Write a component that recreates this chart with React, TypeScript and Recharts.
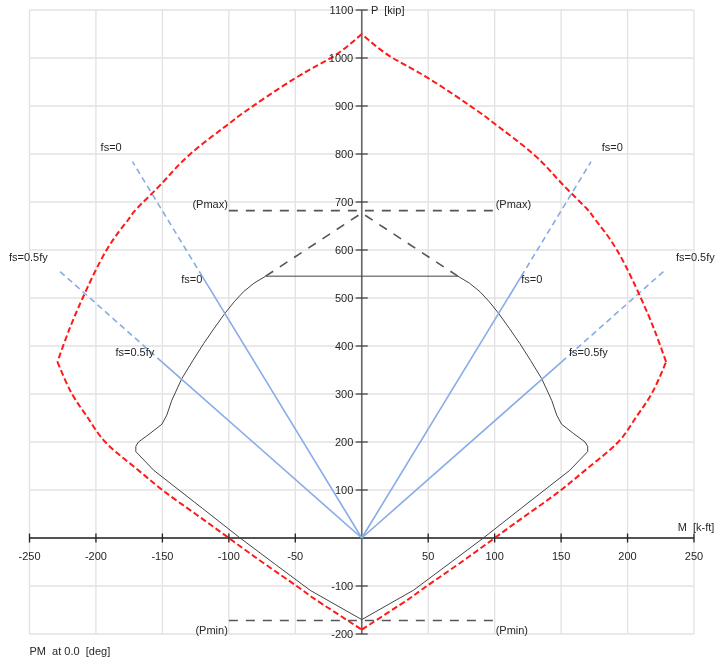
import React from 'react';
import { ComposedChart, Line, XAxis, YAxis, ReferenceLine, ReferenceDot } from 'recharts';

// ---- data ----
const xTicks = [-250, -200, -150, -100, -50, 0, 50, 100, 150, 200, 250];
const yTicks = [-200, -100, 0, 100, 200, 300, 400, 500, 600, 700, 800, 900, 1000, 1100];
const xTickLabels = [-250, -200, -150, -100, -50, 50, 100, 150, 200, 250];
const yTickLabels = [-200, -100, 100, 200, 300, 400, 500, 600, 700, 800, 900, 1000, 1100];

// nominal strength envelope (red dashed), four smooth branches
const nominalRightLower = [
  { x: 0, y: -191 }, { x: 20, y: -155 }, { x: 36, y: -126 }, { x: 49, y: -100 }, { x: 74, y: -52 },
  { x: 100, y: 0 }, { x: 125, y: 50 }, { x: 150, y: 100 }, { x: 172, y: 150 }, { x: 193, y: 200 },
  { x: 206, y: 250 }, { x: 218, y: 300 }, { x: 229, y: 367 },
];
const nominalRightUpper = [
  { x: 229, y: 367 }, { x: 220, y: 435 }, { x: 210, y: 500 }, { x: 192, y: 600 }, { x: 176, y: 662 },
  { x: 169, y: 687 }, { x: 150, y: 740 }, { x: 129, y: 800 }, { x: 100, y: 863 }, { x: 89, y: 886 },
  { x: 50, y: 958 }, { x: 21, y: 1004 }, { x: 0, y: 1050 },
];
const nominalLeftUpper = [
  { x: 0, y: 1050 }, { x: -21, y: 1004 }, { x: -50, y: 958 }, { x: -89, y: 886 }, { x: -100, y: 863 },
  { x: -129, y: 800 }, { x: -150, y: 740 }, { x: -169, y: 687 }, { x: -176, y: 662 }, { x: -192, y: 600 },
  { x: -210, y: 500 }, { x: -220, y: 435 }, { x: -229, y: 367 },
];
const nominalLeftLower = [
  { x: -229, y: 367 }, { x: -218, y: 300 }, { x: -206, y: 250 }, { x: -193, y: 200 }, { x: -172, y: 150 },
  { x: -150, y: 100 }, { x: -125, y: 50 }, { x: -100, y: 0 }, { x: -74, y: -52 }, { x: -49, y: -100 },
  { x: -36, y: -126 }, { x: -20, y: -155 }, { x: 0, y: -191 },
];

// design strength (black solid)
const designCurve = [
  { x: -72.3, y: 545.5 }, { x: 72.3, y: 545.5 }, { x: 81, y: 531 }, { x: 89, y: 513 }, { x: 96, y: 492 },
  { x: 103, y: 468 }, { x: 111, y: 437 }, { x: 119, y: 405 }, { x: 127, y: 370 }, { x: 135.4, y: 332 },
  { x: 142.9, y: 287 }, { x: 146.7, y: 256 }, { x: 150.4, y: 237 }, { x: 159.2, y: 218 }, { x: 168, y: 200 },
  { x: 170, y: 191 }, { x: 170, y: 180 }, { x: 156.5, y: 141 }, { x: 120, y: 62 }, { x: 91.5, y: 0 },
  { x: 65, y: -55 }, { x: 38.8, y: -109 }, { x: 0, y: -170 }, { x: -38.8, y: -109 }, { x: -65, y: -55 },
  { x: -91.5, y: 0 }, { x: -120, y: 62 }, { x: -156.5, y: 141 }, { x: -170, y: 180 }, { x: -170, y: 191 },
  { x: -168, y: 200 }, { x: -159.2, y: 218 }, { x: -150.4, y: 237 }, { x: -146.7, y: 256 }, { x: -142.9, y: 287 },
  { x: -135.4, y: 332 }, { x: -127, y: 370 }, { x: -119, y: 405 }, { x: -111, y: 437 }, { x: -103, y: 468 },
  { x: -96, y: 492 }, { x: -89, y: 513 }, { x: -81, y: 531 }, { x: -72.3, y: 545.5 },
];

const designCap = [{ x: -72.3, y: 545.5 }, { x: 0, y: 677 }, { x: 72.3, y: 545.5 }];
const pmaxLine = [{ x: -100, y: 682 }, { x: 100, y: 682 }];
const pminLine = [{ x: -100, y: -172 }, { x: 100, y: -172 }];

const fs0RightSolid = [{ x: 0, y: 0 }, { x: 120, y: 545 }];
const fs0RightDash = [{ x: 120, y: 545 }, { x: 172.5, y: 784 }];
const fs0LeftSolid = [{ x: 0, y: 0 }, { x: -120, y: 545 }];
const fs0LeftDash = [{ x: -120, y: 545 }, { x: -172.5, y: 784 }];
const fsHalfRightSolid = [{ x: 0, y: 0 }, { x: 150.4, y: 367 }];
const fsHalfRightDash = [{ x: 150.4, y: 367 }, { x: 228.6, y: 559 }];
const fsHalfLeftSolid = [{ x: 0, y: 0 }, { x: -150.4, y: 367 }];
const fsHalfLeftDash = [{ x: -150.4, y: 367 }, { x: -228.6, y: 559 }];

const textLabels = [
  { text: '(Pmax)', x: -100, y: 682 },
  { text: '(Pmax)', x: 100, y: 682 },
  { text: '(Pmin)', x: -100, y: -172 },
  { text: '(Pmin)', x: 100, y: -172 },
  { text: 'fs=0', x: 172.5, y: 784 },
  { text: 'fs=0', x: -172.5, y: 784 },
  { text: 'fs=0.5fy', x: 228.6, y: 559 },
  { text: 'fs=0.5fy', x: -228.6, y: 559 },
  { text: 'fs=0', x: 120, y: 545 },
  { text: 'fs=0', x: -120, y: 545 },
  { text: 'fs=0.5fy', x: 150.4, y: 367 },
  { text: 'fs=0.5fy', x: -150.4, y: 367 },
  { text: 'M  [k-ft]', x: 250, y: 0 },
  { text: 'P  [kip]', x: 0, y: 1100 },
  { text: 'PM  at 0.0  [deg]', x: -250, y: -200 },
];

// ---- styling (pixel offsets for each label, same order) ----
const labelStyle = [
  { dx: -1, dy: -2.5, anchor: 'end' },
  { dx: 1, dy: -2.5, anchor: 'start' },
  { dx: -1, dy: 13, anchor: 'end' },
  { dx: 1, dy: 13, anchor: 'start' },
  { dx: 10.7, dy: -11, anchor: 'start' },
  { dx: -10.8, dy: -11, anchor: 'end' },
  { dx: 10.4, dy: -9, anchor: 'start' },
  { dx: -10.2, dy: -9, anchor: 'end' },
  { dx: 0, dy: 7, anchor: 'start' },
  { dx: 0, dy: 7, anchor: 'end' },
  { dx: 7.4, dy: -6, anchor: 'start' },
  { dx: -7.6, dy: -6, anchor: 'end' },
  { dx: -16.3, dy: -7, anchor: 'start' },
  { dx: 9.3, dy: 4, anchor: 'start' },
  { dx: 0, dy: 21, anchor: 'start' },
];

const FONT = '"Liberation Sans", Arial, Helvetica, sans-serif';
const TEXT_COLOR = '#262626';
const RED = '#ff1a1a';
const BLUE = '#86ace6';
const GRAY = '#555555';
const GRID = '#e2e2e2';

const textShape = (text: string, dx: number, dy: number, anchor: string) => (p: any) => (
  <text
    x={p.cx + dx}
    y={p.cy + dy}
    textAnchor={anchor}
    fontSize={11}
    fontFamily={FONT}
    fill={TEXT_COLOR}
    style={{ whiteSpace: 'pre' }}
  >
    {text}
  </text>
);

const xTickShape = (v: number) => (p: any) => (
  <g>
    <line x1={p.cx} x2={p.cx} y1={p.cy - 4.5} y2={p.cy + 4.5} stroke="#222" strokeWidth={1.3} />
    <text x={p.cx} y={p.cy + 22} textAnchor="middle" fontSize={11} fontFamily={FONT} fill={TEXT_COLOR}>
      {v}
    </text>
  </g>
);

const yTickShape = (v: number) => (p: any) => (
  <g>
    <line x1={p.cx - 6} x2={p.cx + 6} y1={p.cy} y2={p.cy} stroke="#444" strokeWidth={1.3} />
    <text x={p.cx - 8.5} y={p.cy + 4} textAnchor="end" fontSize={11} fontFamily={FONT} fill={TEXT_COLOR}>
      {v}
    </text>
  </g>
);

const seg = (data: any[], stroke: string, width: number, dash?: string, key?: string, curve: any = 'linear') => (
  <Line
    key={key}
    data={data}
    dataKey="y"
    type={curve}
    stroke={stroke}
    strokeWidth={width}
    strokeDasharray={dash}
    dot={false}
    activeDot={false}
    isAnimationActive={false}
    legendType="none"
  />
);

export default function App() {
  return (
    <div style={{ position: 'fixed', left: 0, top: 0, width: 720, height: 663 }}>
      <ComposedChart
        width={720}
        height={663}
        margin={{ top: 10, right: 26, bottom: 29, left: 29.5 }}
        style={{ overflow: 'visible' }}
      >
        <XAxis
          type="number"
          dataKey="x"
          domain={[-250, 250]}
          ticks={xTicks}
          allowDataOverflow
          axisLine={false}
          tickLine={false}
          tick={false}
          height={0}
        />
        <YAxis
          type="number"
          dataKey="y"
          domain={[-200, 1100]}
          ticks={yTicks}
          allowDataOverflow
          axisLine={false}
          tickLine={false}
          tick={false}
          width={0}
        />
        {xTicks.map((v) => (
          <ReferenceLine key={'gx' + v} x={v} stroke={GRID} strokeWidth={1.3} />
        ))}
        {yTicks.map((v) => (
          <ReferenceLine key={'gy' + v} y={v} stroke={GRID} strokeWidth={1.3} />
        ))}
        <ReferenceLine x={0} stroke="#666" strokeWidth={1.6} />
        <ReferenceLine y={0} stroke="#222" strokeWidth={1.4} />

        {seg(designCurve, '#444', 1, undefined, 'design')}
        {seg(designCap, GRAY, 1.6, '9 8', 'cap')}
        {seg(pmaxLine, GRAY, 1.6, '9 8', 'pmax')}
        {seg(pminLine, GRAY, 1.6, '9 8', 'pmin')}

        {seg(fs0RightSolid, BLUE, 1.6, undefined, 'b1')}
        {seg(fs0RightDash, BLUE, 1.6, '6 4', 'b2')}
        {seg(fs0LeftSolid, BLUE, 1.6, undefined, 'b3')}
        {seg(fs0LeftDash, BLUE, 1.6, '6 4', 'b4')}
        {seg(fsHalfRightSolid, BLUE, 1.6, undefined, 'b5')}
        {seg(fsHalfRightDash, BLUE, 1.6, '6 4', 'b6')}
        {seg(fsHalfLeftSolid, BLUE, 1.6, undefined, 'b7')}
        {seg(fsHalfLeftDash, BLUE, 1.6, '6 4', 'b8')}

        {seg(nominalRightLower, RED, 2, '6 3', 'r1', 'natural')}
        {seg(nominalRightUpper, RED, 2, '6 3', 'r2', 'natural')}
        {seg(nominalLeftUpper, RED, 2, '6 3', 'r3', 'natural')}
        {seg(nominalLeftLower, RED, 2, '6 3', 'r4', 'natural')}

        {xTickLabels.map((v) => (
          <ReferenceDot key={'xt' + v} x={v} y={0} r={0} ifOverflow="visible" shape={xTickShape(v)} />
        ))}
        {yTickLabels.map((v) => (
          <ReferenceDot key={'yt' + v} x={0} y={v} r={0} ifOverflow="visible" shape={yTickShape(v)} />
        ))}
        {textLabels.map((l, i) => (
          <ReferenceDot
            key={'lb' + i}
            x={l.x}
            y={l.y}
            r={0}
            ifOverflow="visible"
            shape={textShape(l.text, labelStyle[i].dx, labelStyle[i].dy, labelStyle[i].anchor)}
          />
        ))}
      </ComposedChart>
    </div>
  );
}
